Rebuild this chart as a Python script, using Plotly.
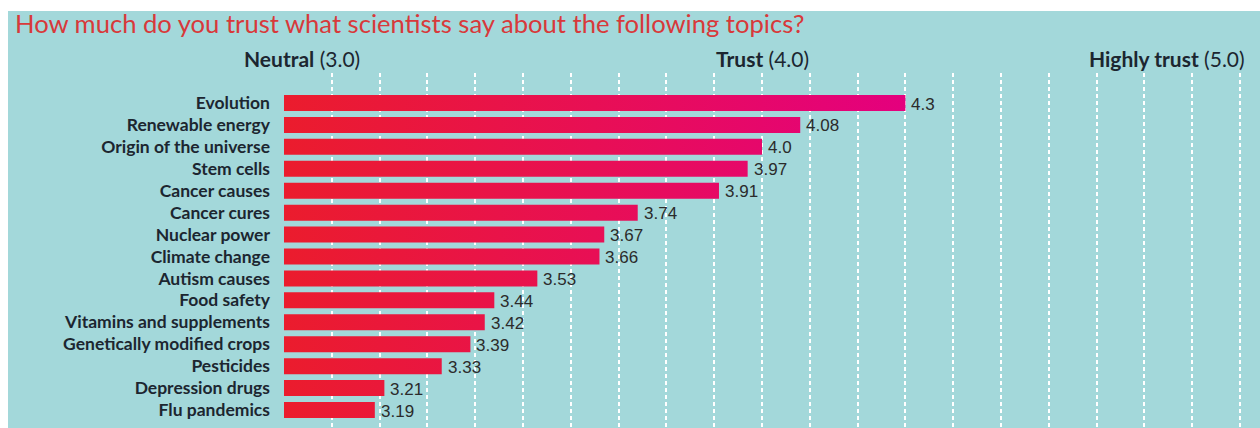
import plotly.graph_objects as go

topics = ["Evolution", "Renewable energy", "Origin of the universe", "Stem cells",
          "Cancer causes", "Cancer cures", "Nuclear power", "Climate change",
          "Autism causes", "Food safety", "Vitamins and supplements",
          "Genetically modified crops", "Pesticides", "Depression drugs", "Flu pandemics"]
scores = [4.3, 4.08, 4.0, 3.97, 3.91, 3.74, 3.67, 3.66, 3.53, 3.44, 3.42, 3.39, 3.33, 3.21, 3.19]
score_labels = ["4.3", "4.08", "4.0", "3.97", "3.91", "3.74", "3.67", "3.66", "3.53",
                "3.44", "3.42", "3.39", "3.33", "3.21", "3.19"]
scale_points = [3.0, 4.0, 5.0]
scale_names = ["Neutral", "Trust", "Highly trust"]
title_text = "How much do you trust what scientists say about the following topics?"

BASE = 3.0
HALF = 0.365
TEAL = "#a3d8da"
TEXT = "#1c2630"

fig = go.Figure()

for i, (t, v) in enumerate(zip(topics, scores)):
    fig.add_trace(go.Scatter(
        x=[BASE, v, v, BASE, BASE],
        y=[i - HALF, i - HALF, i + HALF, i + HALF, i - HALF],
        mode="lines", fill="toself", line=dict(width=0),
        fillgradient=dict(type="horizontal",
                          colorscale=[[0, "#eb1c2d"], [0.5, "#e80f55"], [1, "#e4007e"]],
                          start=3.0, stop=4.3),
        hoverinfo="skip", showlegend=False,
    ))

for i, (v, lab) in enumerate(zip(scores, score_labels)):
    fig.add_annotation(x=v, y=i, text=lab, showarrow=False, xanchor="left",
                       yanchor="middle", xshift=4, yshift=-1,
                       font=dict(family="Liberation Sans", size=17, color="#2b2b2b"))

# solid reference lines
for p in scale_points:
    fig.add_shape(type="line", x0=p, x1=p, y0=0, y1=1, xref="x", yref="paper",
                  line=dict(color="white", width=3), layer="between")

# header labels
header_pos = [3.0377, 4.0, 4.848]
for p, name, hp in zip(scale_points, scale_names, header_pos):
    fig.add_annotation(x=hp, y=1.041, xref="x", yref="paper",
                       text=f"<b>{name}</b> ({p:.1f})", showarrow=False,
                       xanchor="center", yanchor="middle",
                       font=dict(family="Lato", size=21, color=TEXT))

# title
fig.add_annotation(x=-0.2775, y=1.14, xref="paper", yref="paper", text=title_text,
                   showarrow=False, xanchor="left", yanchor="middle",
                   font=dict(family="Lato", size=25.6, color="#d8393a"))

# teal background panel (white border at top/left)
fig.add_shape(type="rect", xref="paper", yref="paper",
              x0=(8 - 284) / 976, x1=1.01, y0=-0.01, y1=1 + (73 - 11) / 355,
              fillcolor=TEAL, line=dict(width=0), layer="below")

fig.update_layout(
    width=1260, height=428,
    margin=dict(l=284, r=0, t=73, b=0),
    paper_bgcolor="white", plot_bgcolor=TEAL,
    xaxis=dict(range=[3.0, 3.0 + 976 / 478], tick0=3.0, dtick=0.1,
               showgrid=True, gridcolor="white", gridwidth=1.5, griddash="4px,3px",
               showticklabels=False, zeroline=False, showline=False, fixedrange=True),
    yaxis=dict(range=[14.82, -1.368], tickmode="array",
               tickvals=list(range(len(topics))), ticktext=topics,
               showgrid=False, zeroline=False, showline=False,
               ticklabelstandoff=13,
               tickfont=dict(family="Lato", size=17.5, color=TEXT, weight="bold")),
    showlegend=False,
)

fig.write_html("out.html")
